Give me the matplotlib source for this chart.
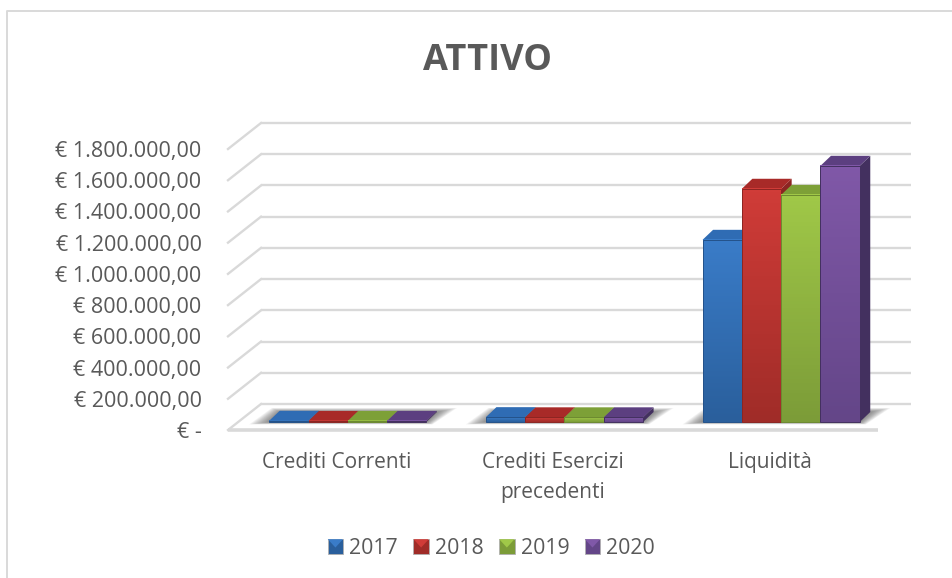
import numpy as np
import matplotlib
matplotlib.use("Agg")
import matplotlib.pyplot as plt
from matplotlib.patches import Polygon, Rectangle
from matplotlib.colors import LinearSegmentedColormap
from matplotlib.legend_handler import HandlerBase
from matplotlib.transforms import offset_copy

categories = ["Crediti Correnti", "Crediti Esercizi\nprecedenti", "Liquidità"]
years = ["2017", "2018", "2019", "2020"]
v2017 = [8000, 31000, 1167000]
v2018 = [7000, 30000, 1494000]
v2019 = [7000, 30000, 1455000]
v2020 = [7000, 30000, 1641000]
series = [v2017, v2018, v2019, v2020]
yticks = [0, 200000, 400000, 600000, 800000, 1000000, 1200000, 1400000, 1600000, 1800000]
ylabels = ["€ -", "€ 200.000,00", "€ 400.000,00", "€ 600.000,00", "€ 800.000,00",
           "€ 1.000.000,00", "€ 1.200.000,00", "€ 1.400.000,00", "€ 1.600.000,00", "€ 1.800.000,00"]
top_colors = ["#3a7cc8", "#d03c38", "#a0c848", "#8058a8"]
bot_colors = ["#2a5f9c", "#a02c28", "#7c9c38", "#644688"]
side_colors = ["#24528a", "#8c2522", "#6c8a30", "#43305f"]
cap_colors = ["#2f6cb4", "#a82a28", "#7da037", "#5c3f80"]

W, H = 953, 578
FONT = "Open Sans"
TXT = "#595959"
GRID = "#d9d9d9"

fig = plt.figure(figsize=(W / 100, H / 100), dpi=100)
fig.patch.set_facecolor("white")

# chart border: only the left and top edges are inside the crop
fig.add_artist(plt.Line2D([7.5 / W, 7.5 / W, 1],
                          [0, 1 - 11 / H, 1 - 11 / H],
                          color="#d9d9d9", lw=1.4, transform=fig.transFigure))

y0_px, ytop_px = 430.0, 149.0
ax = fig.add_axes([228 / W, 1 - y0_px / H, 650 / W, (y0_px - ytop_px) / H])
ax.set_xlim(-0.5, 2.5)
ax.set_ylim(0, 1800000)
ax.patch.set_alpha(0)
for s in ax.spines.values():
    s.set_visible(False)
ax.set_autoscale_on(False)


def off(dx, dy):
    return offset_copy(ax.transData, fig=fig, x=dx, y=dy, units="dots")


px2x = 1 / (650 / 3)
px2y = 1800000 / (y0_px - ytop_px)

# wall / floor gridlines
WDX, WDY = 33, 26
back = off(WDX, WDY)
for v in yticks:
    ax.plot([-0.5, 2.5], [v, v], transform=back, color=GRID, lw=1.7, clip_on=False,
            solid_capstyle="butt", zorder=1)
    ax.plot([-0.5, -0.5 + WDX * px2x], [v, v + WDY * px2y],
            color=GRID, lw=1.7, clip_on=False, zorder=1)
ax.plot([-0.5, 2.5], [0, 0], color=GRID, lw=2.6, clip_on=False, zorder=1.2, solid_capstyle="butt")

# bars
BDX, BDY = 10.5, 10
FLOOR = 8
BAR_W = 39.3 * px2x
SHIFT = 11.5 * px2x
front = off(0, FLOOR)

# floor shadows under each group
for k in range(len(categories)):
    xa = k + SHIFT - 2 * BAR_W
    xb = k + SHIFT + 2 * BAR_W
    for g in np.linspace(20, 1, 12):
        ax.add_patch(Polygon(
            [(xa - g * px2x, -g * 0.12 * px2y), (xb + g * 0.3 * px2x, -g * 0.12 * px2y),
             (xb + (BDX + g) * px2x, (BDY + g * 0.2) * px2y),
             (xa + (BDX - g * 0.4) * px2x, (BDY + g * 0.2) * px2y)],
            closed=True, transform=front, fc="#303030", ec="none", alpha=0.06,
            clip_on=False, zorder=1.5))

for s, vals in enumerate(series):
    cmap = LinearSegmentedColormap.from_list("c", [top_colors[s], bot_colors[s]])
    xs = np.arange(len(categories)) + SHIFT + (s - 1.5) * BAR_W
    for x, v in zip(xs, vals):
        l, r = x - BAR_W / 2, x + BAR_W / 2
        z = 3 + s * 0.1
        ax.add_patch(Polygon([(r, 0), (r + BDX * px2x, BDY * px2y),
                              (r + BDX * px2x, v + BDY * px2y), (r, v)],
                             closed=True, transform=front, fc=side_colors[s], ec="none",
                             clip_on=False, zorder=z))
        ax.add_patch(Polygon([(l, v), (r, v), (r + BDX * px2x, v + BDY * px2y),
                              (l + BDX * px2x, v + BDY * px2y)],
                             closed=True, transform=front, fc=cap_colors[s], ec="none",
                             clip_on=False, zorder=z))
    bars = ax.bar(xs, vals, width=BAR_W, transform=front, color=bot_colors[s],
                  clip_on=False, zorder=3.01 + s * 0.1)
    for b in bars:
        bb = b.get_bbox()
        ax.imshow(np.linspace(0, 1, 64).reshape(-1, 1), extent=[bb.x0, bb.x1, bb.y0, bb.y1],
                  cmap=cmap, aspect="auto", origin="upper", transform=front,
                  zorder=3.02 + s * 0.1, clip_on=False)
        ax.add_patch(Rectangle((bb.x0, bb.y0), bb.x1 - bb.x0, bb.y1 - bb.y0, fc="none",
                               ec=side_colors[s], lw=0.7, transform=front, clip_on=False,
                               zorder=3.03 + s * 0.1))
ax.set_xlim(-0.5, 2.5)
ax.set_ylim(0, 1800000)

ax.set_yticks(yticks)
ax.set_yticklabels(ylabels, fontfamily=FONT, fontsize=15.5, color=TXT)
ax.set_xticks(range(len(categories)))
ax.set_xticklabels(categories, fontfamily=FONT, fontsize=15, color=TXT, linespacing=1.58)
ax.tick_params(axis="y", length=0, pad=19)
ax.tick_params(axis="x", length=0, pad=15.5)

fig.text(488 / W, 1 - 60.5 / H, "ATTIVO", ha="center", va="center", fontfamily=FONT,
         fontweight="bold", fontsize=26, color=TXT)


class Bevel(HandlerBase):
    def create_artists(self, legend, orig, xd, yd, w, h, fs, trans):
        i = years.index(orig.get_label())
        sq = Rectangle((xd, yd), w, h, fc=bot_colors[i], ec="#b0b0b0", lw=0.6, transform=trans)
        tri = Polygon([(xd, yd + h), (xd + w, yd + h), (xd + w / 2, yd + h * 0.45)], closed=True,
                      fc=top_colors[i], ec="none", transform=trans)
        return [sq, tri]


handles = [Rectangle((0, 0), 1, 1, label=y) for y in years]
leg = fig.legend(handles=handles, labels=years, loc="center", bbox_to_anchor=(491.5 / W, 1 - 549 / H),
                 ncol=4, frameon=False, prop={"family": FONT, "size": 15.3}, labelcolor=TXT,
                 handler_map={Rectangle: Bevel()}, handlelength=0.72, handleheight=0.72,
                 handletextpad=0.3, columnspacing=0.72)

fig.savefig("out.png", dpi=100)
